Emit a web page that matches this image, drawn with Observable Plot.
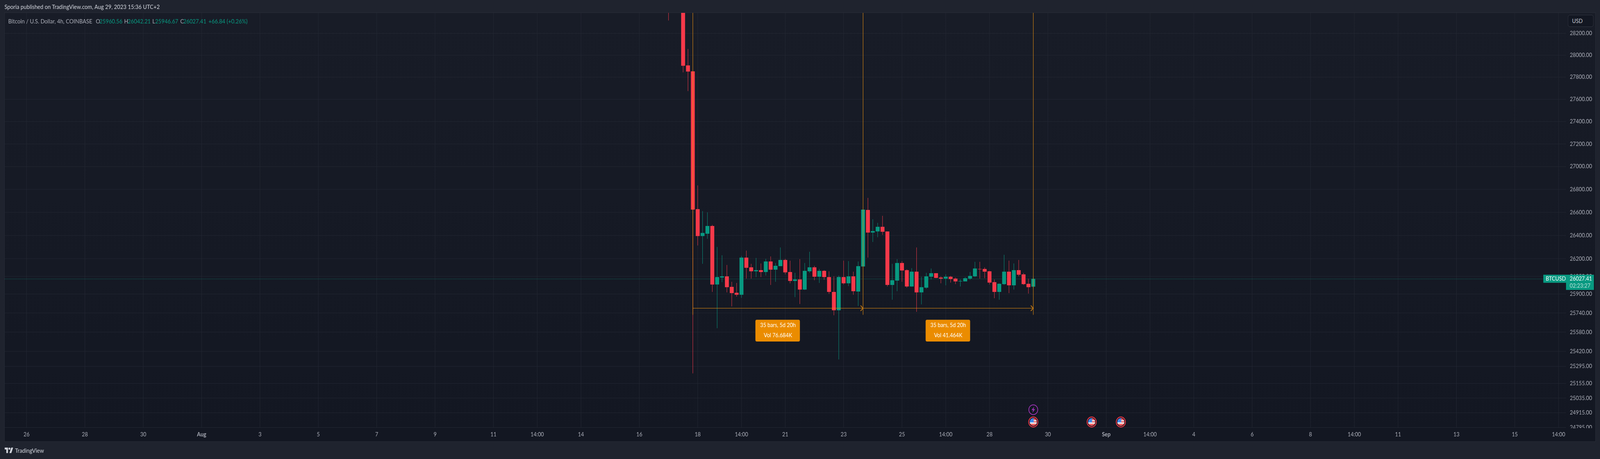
<!DOCTYPE html>
<html>
<head>
<meta charset="utf-8">
<script src="https://cdn.jsdelivr.net/npm/d3@7"></script>
<script src="https://cdn.jsdelivr.net/npm/@observablehq/plot@0.6"></script>
<style>
  html,body{margin:0;padding:0;background:#1f232e;width:100%;height:100%;overflow:hidden;font-family:Lato,Roboto,sans-serif;}
  #root{position:absolute;left:0;top:0;width:4474px;height:1176px;transform-origin:0 0;}
  #head{height:33px;line-height:35px;padding-left:12.5px;color:#d1d4dc;font-size:15px;box-sizing:border-box;white-space:nowrap;}
  #pane{position:relative;margin-left:13px;width:4448px;height:1098px;outline:1.5px solid #2a2e39;}
  #pane svg{display:block;}
  .lg{position:absolute;top:12px;font-size:15px;line-height:18px;white-space:nowrap;}
  #usd{position:absolute;left:4371px;top:5px;width:72px;height:31px;box-sizing:border-box;border:1px solid #363a45;border-radius:6px;background:#131722;color:#c3c6ce;font-size:14.5px;line-height:29px;padding-left:11px;}
  #foot{position:absolute;left:13px;top:1131px;height:45px;display:flex;align-items:center;color:#d1d4dc;font-size:15px;gap:5px;}
</style>
</head>
<body>
<svg width="0" height="0" style="position:absolute">
  <defs>
    <pattern id="usflag" patternUnits="objectBoundingBox" patternContentUnits="objectBoundingBox" width="1" height="1">
      <rect width="1" height="1" fill="#f25c5c"/>
      <rect y="0.27" width="1" height="0.13" fill="#f5f5f5"/>
      <rect y="0.55" width="1" height="0.17" fill="#f5f5f5"/>
      <rect width="0.55" height="0.55" fill="#3d8bec"/>
    </pattern>
  </defs>
</svg>
<div id="root">
<div id="head">Sporia published on TradingView.com, Aug 29, 2023 15:36 UTC+2</div>
<div id="pane"><div id="usd">USD</div></div>
<div id="foot">
  <svg width="24" height="19" viewBox="0 0 36 28"><path fill="#d1d4dc" d="M14 25H7V11H0V4h14v21zM28 25h-8l7.5-21h8L28 25z"/><circle cx="20" cy="8" r="4" fill="#d1d4dc"/></svg>
  <span>TradingView</span>
</div>
</div>
<script>
// Fit the page to whatever width the window really has.
const fit = Math.min(1, window.innerWidth / 4474);
document.getElementById("root").style.transform = "scaleX(" + fit + ")";

// Bars are indexed in 4h steps from 18 Aug 2023 00:00
const barIndex = [-6,-3,-2,-1,0,1,2,3,4,5,6,7,8,9,10,11,12,13,14,15,16,17,18,19,20,21,22,23,24,25,26,27,28,29,30,31,32,33,34,35,36,37,38,39,40,41,42,43,44,45,46,47,48,49,50,51,52,53,54,55,56,57,58,59,60,61,62,63,64,65,66,67,68,69];
const opens  = [28520,28450,27905,27851,26626,26393,26413,26480,25979,26038,26048,25959,25909,25892,26208,26125,26091,26101,26085,26175,26105,26135,26188,26085,26009,26022,25936,26091,26125,26045,26095,26042,25916,25761,26042,25989,26048,25919,26132,26619,26423,26433,26473,26433,25975,26012,26162,26101,25962,26088,25912,25952,26045,26075,26038,26029,26045,26029,26005,26005,26029,26048,26111,26111,26091,25999,25916,25982,26088,25972,26101,26065,25985,25960.56];
const highs  = [28560,28480,28055,27851,26833,26609,26598,26490,26299,26228,26145,26002,25992,26222,26268,26155,26205,26158,26198,26218,26162,26295,26198,26182,26078,26195,26162,26258,26138,26111,26101,26091,26048,26055,26182,26178,26088,26175,26622,26724,26538,26507,26568,26433,26155,26195,26178,26108,26118,26295,26045,26078,26115,26075,26048,26065,26052,26038,26022,26042,26085,26172,26172,26125,26095,26022,25989,26232,26182,26158,26188,26078,26029,26042.21];
const lows   = [28317,27842,27672,25236,26312,26155,26369,25916,25611,25999,25912,25794,25876,25866,26029,26029,26042,26042,26055,25975,26002,26135,26065,25989,25872,25814,25932,26078,26015,25992,26019,25899,25719,25351,25979,25965,25892,25797,26132,26208,26342,26383,26403,25962,25850,25922,26002,25952,25959,25748,25811,25942,26022,26032,25989,25972,25995,25982,25962,26005,26019,26042,26029,26032,25979,25863,25850,25975,25906,25936,26048,25975,25902,25946.67];
const closes = [28420,27902,27849,26622,26393,26420,26480,25979,26042,26048,25956,25906,25892,26208,26121,26091,26101,26085,26175,26105,26138,26188,26082,26009,26022,25936,26095,26125,26045,26095,26042,25916,25761,26042,25989,26048,25922,26135,26622,26423,26436,26473,26430,25975,26015,26162,26098,25962,26088,25912,25956,26048,26075,26035,26029,26045,26025,26005,26009,26032,26052,26115,26108,26088,25995,25916,25985,26088,25972,26101,26062,25982,25956,26027.41];

const priceTicks = [28200,28000,27800,27600,27400,27200,27000,26800,26600,26400,26200,26050,25900,25740,25580,25420,25295,25155,25035,24915,24795];
const dayTicks = ["2023-07-26","2023-07-28","2023-07-30","2023-08-03","2023-08-05","2023-08-07","2023-08-09","2023-08-11","2023-08-12T12:00Z","2023-08-14","2023-08-16","2023-08-18","2023-08-19T12:00Z","2023-08-21","2023-08-23","2023-08-25","2023-08-26T12:00Z","2023-08-28","2023-08-30","2023-09-02T12:00Z","2023-09-04","2023-09-06","2023-09-08","2023-09-09T12:00Z","2023-09-11","2023-09-13","2023-09-15","2023-09-16T12:00Z"];
const dayLabels = ["26","28","30","3","5","7","9","11","14:00","14","16","18","14:00","21","23","25","14:00","28","30","14:00","4","6","8","14:00","11","13","15","14:00"];
const monthTicks = ["2023-08-01","2023-09-01"];
const monthLabels = ["Aug","Sep"];

const measureBars = [-1,34,69];
const measureLow = 25723;
const measureLevel = 25780;
const measureTexts = [["35 bars, 5d 20h","Vol 76.684K"],["35 bars, 5d 20h","Vol 41.464K"]];
const lastPrice = 26027.41;
const flagBars = [69,81,87];
const boltBars = [69];

const legend = [
  ["Bitcoin / U.S. Dollar, 4h, COINBASE",10,"#a9acb6"],
  ["O",255,"#a9acb6"],["25960.56",265,"#089981"],
  ["H",334,"#a9acb6"],["26042.21",344,"#089981"],
  ["L",413,"#a9acb6"],["25946.67",421,"#089981"],
  ["C",491,"#a9acb6"],["26027.41",499.5,"#089981"],
  ["+66.84 (+0.26%)",570,"#089981"]
];
const pane = document.getElementById("pane");
for (const [t,x,c] of legend) {
  const s = document.createElement("span");
  s.className = "lg"; s.textContent = t; s.style.left = x+"px"; s.style.color = c;
  pane.appendChild(s);
}

const t0 = Date.UTC(2023,7,18);
const T = k => new Date(t0 + k*4*3600e3);
const green = "#089981", red = "#f6394a", orange = "#f7980f", gridC = "#252934", axisC = "#a9acb6";
const bars = barIndex.map((k,i)=>({t:T(k),o:opens[i],h:highs[i],l:lows[i],c:closes[i],col:closes[i]>=opens[i]?green:red}));
const topPrice = 28387.5;
const parseD = s => new Date(s);
const tickMap = new Map(dayTicks.map((s,i)=>[+parseD(s),dayLabels[i]]));
const monthMap = new Map(monthTicks.map((s,i)=>[+parseD(s),monthLabels[i]]));
const allTicks = [...dayTicks,...monthTicks].map(parseD);

const chevron = {draw(c){c.moveTo(-7,-7);c.lineTo(0,0);c.lineTo(-7,7);}};
const bolt = {draw(c){c.moveTo(2.5,-8);c.lineTo(-5,1);c.lineTo(-0.5,1);c.lineTo(-2.5,8);c.lineTo(5,-1.5);c.lineTo(0.5,-1.5);c.closePath();}};

const font = "Lato,Roboto,sans-serif";
const chart = Plot.plot({
  width:4448, height:1098,
  marginLeft:0, marginRight:82, marginTop:0, marginBottom:36,
  style:{background:"linear-gradient(#181c27,#131722)",fontFamily:font,maxWidth:"none",overflow:"visible"},
  x:{type:"utc",domain:[T(-142.46),T(178.57)],axis:null,label:null},
  y:{type:"log",domain:[24795,topPrice],axis:null,label:null},
  marks:[
    Plot.ruleX(allTicks,{x:d=>d,stroke:gridC,strokeWidth:1,shapeRendering:"crispEdges"}),
    Plot.ruleY(priceTicks,{y:d=>d,stroke:gridC,strokeWidth:1,shapeRendering:"crispEdges"}),
    Plot.ruleY([lastPrice],{y:d=>d,x1:T(-142.46),x2:T(173.9),stroke:"#08b394",strokeWidth:1,strokeDasharray:"1 2"}),
    Plot.ruleX(bars,{x:"t",y1:"l",y2:"h",stroke:"col",strokeWidth:1,clip:true,shapeRendering:"crispEdges"}),
    Plot.ruleX(bars,{x:"t",y1:"o",y2:"c",stroke:"col",strokeWidth:11,clip:true}),
    Plot.ruleX(measureBars,{x:T,y1:measureLow,y2:topPrice,stroke:orange,strokeWidth:1,clip:true,shapeRendering:"crispEdges"}),
    Plot.ruleY([0,1],{y:()=>measureLevel,x1:i=>T(measureBars[i]),x2:i=>T(measureBars[i+1]),stroke:orange,strokeWidth:1,shapeRendering:"crispEdges"}),
    Plot.dot(measureBars.slice(1),{x:T,y:()=>measureLevel,symbol:chevron,fill:"none",stroke:"#c57a12",strokeWidth:2,r:6}),
    Plot.rect([0,1],{x1:i=>T(measureBars[i]+12.9),x2:i=>T(measureBars[i]+22.05),y1:()=>25500,y2:()=>25682,fill:"#eb8c00",rx:4}),
    Plot.text(measureTexts,{x:(d,i)=>T(measureBars[i]+17.5),y:()=>25637,text:d=>d[0],fill:"#fff",fontSize:14.5}),
    Plot.text(measureTexts,{x:(d,i)=>T(measureBars[i]+17.5),y:()=>25552,text:d=>d[1],fill:"#fff",fontSize:14.5}),
    Plot.dot(boltBars,{x:T,y:()=>24940,r:12.5,fill:"#131722",stroke:"#9c33b5",strokeWidth:2}),
    Plot.dot(boltBars,{x:T,y:()=>24940,symbol:bolt,r:6,fill:"#9c33b5"}),
    Plot.dot(flagBars,{x:T,y:()=>24840,r:12.8,fill:"#131722",stroke:"#f23645",strokeWidth:2.2}),
    Plot.dot(flagBars,{x:T,y:()=>24840,r:10,fill:"url(#usflag)"}),
    Plot.axisY(priceTicks,{anchor:"right",label:null,tickSize:0,tickPadding:10,tickFormat:d3.format(".2f"),fill:axisC,fontSize:14.5}),
    (i,s,v,d)=>d3.create("svg:rect").attr("x",0).attr("y",d.height-d.marginBottom+2).attr("width",d.width).attr("height",d.marginBottom-2).attr("fill","#131722").node(),
    Plot.axisX(dayTicks.map(parseD),{label:null,tickSize:0,tickPadding:12,tickFormat:d=>tickMap.get(+d),fill:axisC,fontSize:14.5}),
    Plot.axisX(monthTicks.map(parseD),{label:null,tickSize:0,tickPadding:12,tickFormat:d=>monthMap.get(+d),fill:axisC,fontSize:14.5,fontWeight:"bold"}),
    Plot.rect([0],{x1:()=>T(173.9),x2:()=>T(178.57),y1:()=>25993.5,y2:()=>26062,fill:green}),
    Plot.rect([0],{x1:()=>T(178.57),x2:()=>T(184.3),y1:()=>25933,y2:()=>26062,fill:green}),
    Plot.text(["BTCUSD"],{x:()=>T(174.35),y:()=>lastPrice,text:d=>d,textAnchor:"start",fill:"#fff",fontSize:14.5}),
    Plot.text(["26027.41"],{x:()=>T(179.3),y:()=>lastPrice,text:d=>d,textAnchor:"start",fill:"#fff",fontSize:14.5}),
    Plot.text(["02:23:27"],{x:()=>T(179.3),y:()=>25969,text:d=>d,textAnchor:"start",fill:"#b9e0d8",fontSize:14.5})
  ]
});
pane.prepend(chart);
</script>
</body>
</html>
